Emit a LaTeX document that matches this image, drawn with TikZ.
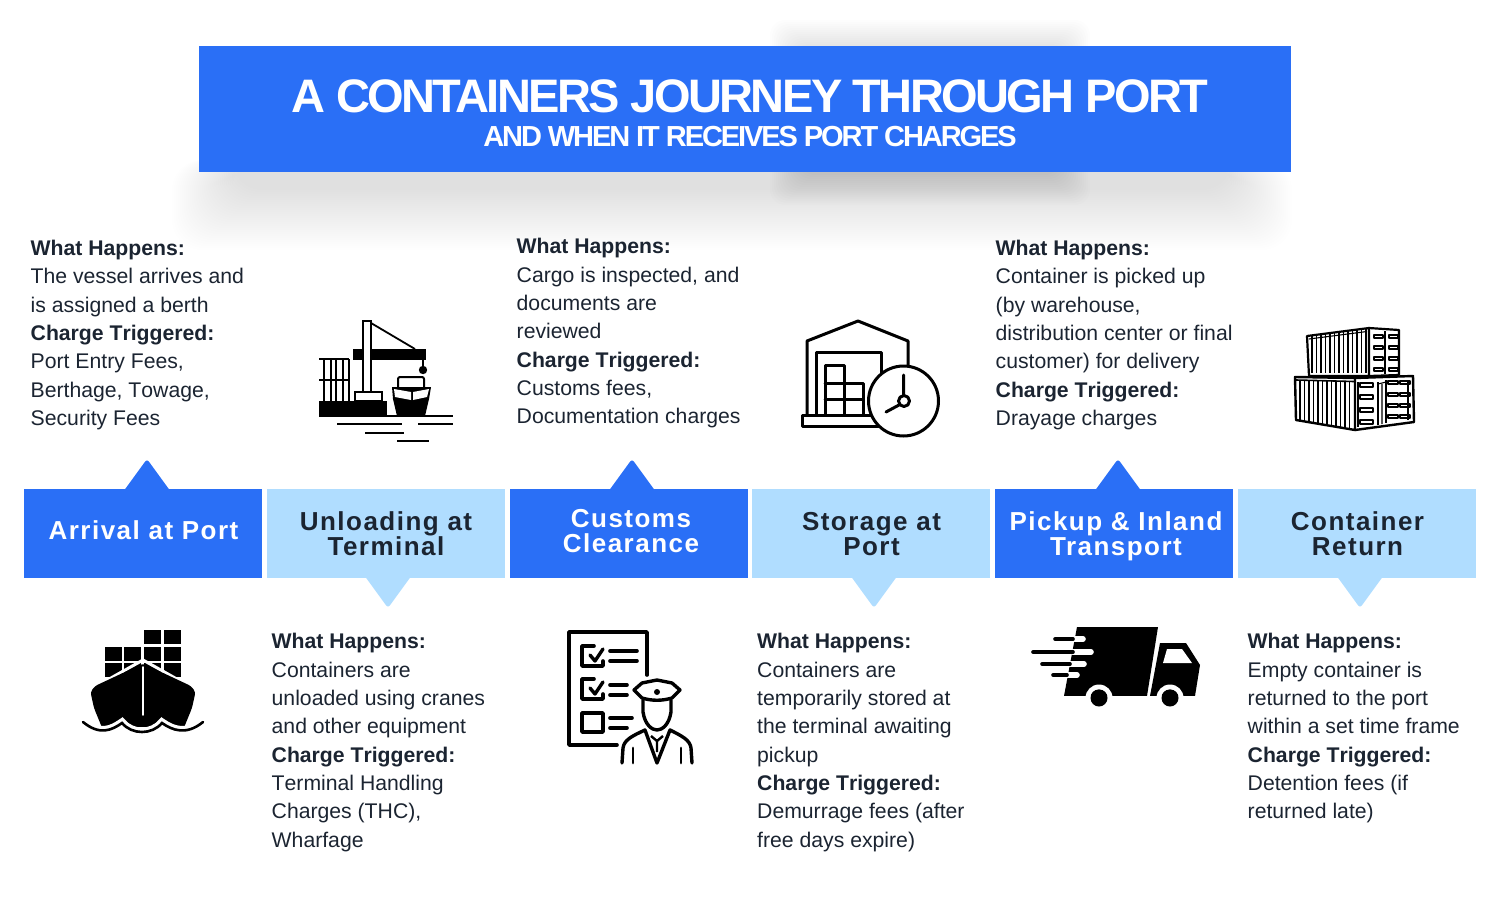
\documentclass[tikz,border=0pt]{standalone}
\usepackage{fontspec}
\setmainfont[Kerning=Off]{Liberation Sans}
\newfontfamily\stagefont[LetterSpace=5.7]{Liberation Sans}
\newfontfamily\titlefont[LetterSpace=-5.5]{Liberation Sans}
\newfontfamily\subtitlefont[LetterSpace=-7.2]{Liberation Sans}
\definecolor{portblue}{HTML}{2A6FF6}
\definecolor{portlight}{HTML}{B0DDFF}
\definecolor{portink}{HTML}{1B2431}
\tikzset{
	stagedark/.style={fill=portblue,text=white,minimum width=238,minimum height=89,inner sep=0},
	stagelight/.style={stagedark,fill=portlight},
	stagetext/.style={inner sep=0,align=center,font=\fontsize{26}{25}\stagefont\bfseries},
	notes/.style={anchor=north west,inner sep=0,align=left,text=portink,font=\fontsize{21.2}{28.3}\selectfont},
	heavy/.style={line width=3,line join=round,line cap=round},
	hairline/.style={line width=1.1,line join=round}
}
\newcommand{\whathappens}{\textbf{What Happens:}}
\newcommand{\chargetrig}{\textbf{Charge Triggered:}}
\begin{document}
\begin{tikzpicture}[x=1pt,y=-1pt]
	\useasboundingbox (0,0) rectangle (1500,900);
	% banner shadow
	\foreach \s in {0,2,...,60}
		\fill [black,opacity=.0055,rounded corners=30] (172+\s,160) rectangle (1292-\s,250-\s);
	\foreach \s in {0,2,...,30}
		\fill [black,opacity=.006,rounded corners=15] (770+\s,20+\s) rectangle (1090-\s,205-\s);
	\node (banner) [fill=portblue,minimum width=1092,minimum height=126,inner sep=0] at (745,109){};
	\node (title) [text=white,inner sep=0,font=\fontsize{47}{47}\titlefont\bfseries] at (750,96){A CONTAINERS JOURNEY THROUGH PORT};
	\node (subtitle) [text=white,inner sep=0,font=\fontsize{29}{29}\subtitlefont\bfseries] at (750,137){AND WHEN IT RECEIVES PORT CHARGES};
	% pointers, then the band
	\foreach \x in {147,632,1118}
		\fill [portblue,rounded corners=3] (\x-24,492)--(\x,459)--(\x+24,492)--cycle;
	\foreach \x in {388,874,1360}
		\fill [portlight,rounded corners=3] (\x-24,575)--(\x,608)--(\x+24,575)--cycle;
	\node (arrival) [stagedark] at (143,533.5){};
	\node (unloading) [stagelight] at (386,533.5){};
	\node (customs) [stagedark] at (629,533.5){};
	\node (storage) [stagelight] at (871,533.5){};
	\node (pickup) [stagedark] at (1114,533.5){};
	\node (return) [stagelight] at (1357,533.5){};
	\node (arrivallabel) [stagetext,text=white] at (143.5,530.5){Arrival at Port};
	\node (unloadinglabel) [stagetext,text=portink] at (386,533.5){Unloading at\\Terminal};
	\node (customslabel) [stagetext,text=white] at (631,531){Customs\\Clearance};
	\node (storagelabel) [stagetext,text=portink] at (871.5,534){Storage at\\Port};
	\node (pickuplabel) [stagetext,text=white] at (1116,536.5){Pickup \& Inland\\Transport};
	\node (returnlabel) [stagetext,text=portink] at (1357.5,533.5){Container\\Return};
	% texts
	\node (arrivaltext) [notes] at (30.5,240){\whathappens\\The vessel arrives and\\is assigned a berth\\\chargetrig\\Port Entry Fees,\\Berthage, Towage,\\Security Fees};
	\node (customstext) [notes] at (516.5,238.4){\whathappens\\Cargo is inspected, and\\documents are\\reviewed\\\chargetrig\\Customs fees,\\Documentation charges};
	\node (pickuptext) [notes] at (995.5,240){\whathappens\\Container is picked up\\(by warehouse,\\distribution center or final\\customer) for delivery\\\chargetrig\\Drayage charges};
	\node (unloadingtext) [notes] at (271.5,633.4){\whathappens\\Containers are\\unloaded using cranes\\and other equipment\\\chargetrig\\Terminal Handling\\Charges (THC),\\Wharfage};
	\node (storagetext) [notes] at (757,633.4){\whathappens\\Containers are\\temporarily stored at\\the terminal awaiting\\pickup\\\chargetrig\\Demurrage fees (after\\free days expire)};
	\node (returntext) [notes] at (1247.5,633.4){\whathappens\\Empty container is\\returned to the port\\within a set time frame\\\chargetrig\\Detention fees (if\\returned late)};
	% crane icon
	\fill (319,401) rectangle (387,417);
	\draw [line width=2.2] (387,416)--(453,416);
	\draw [line width=2] (337,424)--(402,424) (418,424)--(453,424) (365,433)--(404,433) (397,441)--(429,441);
	\foreach \x in {324,331,336,343,349}
		\draw [line width=1.8] (\x,359)--(\x,401);
	\draw [line width=1.8] (319,359)--(349,359) (319,380)--(349,380);
	\fill (353,349) rectangle (426,360);
	\draw [line width=2,fill=white] (363,321) rectangle (371,392);
	\fill (353,349) rectangle (363,360);
	\draw [line width=1.8] (371,323)--(415,349);
	\draw [line width=2,fill=white] (355,392) rectangle (382,401);
	\draw [line width=1.8] (423,360)--(423,366);
	\fill (423,370) circle (4.2);
	\draw [line width=2,fill=white,rounded corners=2] (398,387)--(398,377)--(424,377)--(424,387);
	\fill (392,387)--(431,387)--(429,399)--(425,416)--(397,416)--(393,399)--cycle;
	\fill [white] (394,389)--(411,392)--(411,400)--(395,397)--cycle (413,392)--(429,389)--(427,397)--(413,400)--cycle;
	% warehouse icon
	\draw [heavy] (807,415)--(807,341)--(858,321)--(908,341)--(908,366);
	\draw [heavy] (816,415)--(816,352)--(881,352)--(881,374);
	\draw [heavy] (825,415)--(825,365)--(844,365)--(844,415);
	\draw [heavy] (825,383)--(863,383)--(863,415) (825,399)--(863,399);
	\draw [heavy] (802,415) rectangle (878,426);
	\draw [heavy,fill=white] (903.5,401) circle (35);
	\draw [heavy] (903.5,375)--(903.5,395) (899,405)--(886,412);
	\draw [heavy] (904,401) circle (5.5);
	% stacked containers icon
	\draw [line width=2.2,line join=round] (1307,336)--(1369,328)--(1369,376)--(1309,376)--cycle;
	\draw [line width=2.2,line join=round] (1369,328)--(1399,330)--(1399,375)--(1369,376);
	\foreach \x in {1312,1316.5,...,1367}
		\draw [hairline] (\x,{335.5-(\x-1311)*.125})--(\x,373);
	\draw [hairline] (1309,339)--(1367,331.5);
	\draw [line width=1.6] (1385,331)--(1385,374);
	\foreach \y in {335,346,357,368}
		\foreach \x in {1374,1389}
			\draw [hairline] (\x,\y) rectangle (\x+9,\y+3);
	\draw [line width=2.4,line join=round] (1295,377)--(1355,378)--(1355,430)--(1296,420)--cycle;
	\draw [line width=2.4,line join=round] (1355,378)--(1413,376)--(1414,422)--(1355,430);
	\foreach \x in {1300,1304.5,...,1352}
		\draw [hairline] (\x,381)--(\x,{421+(\x-1299)*.15});
	\draw [line width=1.6] (1296,380)--(1354,381.5);
	\draw [line width=1.6] (1358,382)--(1358,427) (1378,382)--(1378,425) (1386,380)--(1386,423) (1408,380)--(1408,420);
	\foreach \y in {383,395,408,420}
		\draw [hairline] (1360,\y) rectangle (1373,\y+4);
	\foreach \y in {381,393,404,415}
		\foreach \x in {1388,1400}
			\draw [hairline] (\x,\y) rectangle (\x+10,\y+3);
	\draw [hairline] (1378,384)--(1386,382) (1382,384)--(1382,424);
	% ship icon
	\foreach \x/\y in {144/630,164/630,105/647,124/647,144/647,164/647,105/663,124/663,144/663,164/663}
		\fill (\x,\y) rectangle (\x+17,\y+14);
	\draw [white,line width=3,line join=round] (86,692)--(143,660)--(200,692);
	\fill [rounded corners=3] (143,663.5)--(191,686)--(195.5,692)--(192,708)--(183,730)--(143,730)--(103,730)--(94,708)--(90.5,692)--(95,686)--cycle;
	\draw [white,line width=1.8,line cap=round] (143,667)--(143,715);
	\fill [white] (80,727) rectangle (206,740);
	\draw [white,line width=9] (83,722) .. controls (100,736) and (112,730) .. (122,723) .. controls (132,735) and (152,735) .. (162,723) .. controls (172,730) and (186,736) .. (203,722);
	\draw [line width=2.6,line cap=round] (83,722) .. controls (100,736) and (112,730) .. (122,723) .. controls (132,735) and (152,735) .. (162,723) .. controls (172,730) and (186,736) .. (203,722);
	% officer icon
	\draw [line width=3.6,line join=round,line cap=round] (647,675)--(647,632)--(569,632)--(569,745)--(617,745);
	\foreach \y in {646,679}
	{
		\draw [line width=3.6,line join=round,line cap=round] (594,\y)--(582,\y)--(582,\y+20)--(603,\y+20)--(603,\y+15);
		\draw [line width=3.4,line join=round,line cap=round] (590,\y+9)--(595,\y+15)--(603,\y+3);
	}
	\draw [line width=3.6,line join=round] (582,713) rectangle (603,732);
	\draw [line width=3.6,line cap=round] (610,651)--(637,651) (610,661)--(637,661) (610,685)--(627,685) (610,695)--(627,695) (610,718)--(632,718) (610,728)--(627,728);
	\draw [line width=3.4,line join=round] (634,690)--(642,683)--(657,680)--(672,683)--(680,690)--(672,698) .. controls (662,701) and (652,701) .. (642,698)--cycle;
	\fill (657,692) circle (3);
	\draw [line width=3.4,line join=round,line cap=round] (643,700)--(643,712) .. controls (645,725) and (652,730) .. (657,730) .. controls (662,730) and (669,725) .. (671,712)--(671,700);
	\draw [line width=3.4,line join=round,line cap=round] (622,763)--(623,748) .. controls (624,740) and (632,736) .. (645,730)--(657,763)--(670,730) .. controls (682,736) and (690,740) .. (691,748)--(692,763);
	\draw [line width=2.4,line join=round] (651,736)--(657,741)--(663,736) (657,741)--(657,752);
	\draw [line width=2.8,line cap=round] (633,748)--(633,763) (681,748)--(681,763);
	% truck icon
	\fill (1077,627)--(1158,627)--(1147,696)--(1064,696)--cycle;
	\fill (1160,643)--(1186,643)--(1200,665)--(1195,696)--(1150,696)--cycle;
	\fill [white] (1167,649)--(1182,649)--(1192,663)--(1163,663)--cycle;
	\foreach \x in {1099,1170}
	{
		\fill [white] (\x,698) circle (13.5);
		\fill (\x,698) circle (8.5);
	}
	\fill [white] (1000,696) rectangle (1210,712);
	\foreach \x in {1099,1170}
		\fill (\x,698) circle (8.5);
	\foreach \y/\a/\b/\c in {639/1055/1073/1083,652/1033/1073/1091,664/1042/1070/1084,675/1053/1067/1077}
	{
		\draw [white,line width=5.6,line cap=round] (\b,\y)--(\c,\y);
		\draw [line width=3.6,line cap=round] (\a,\y)--(\b,\y);
	}
\end{tikzpicture}
\end{document}
